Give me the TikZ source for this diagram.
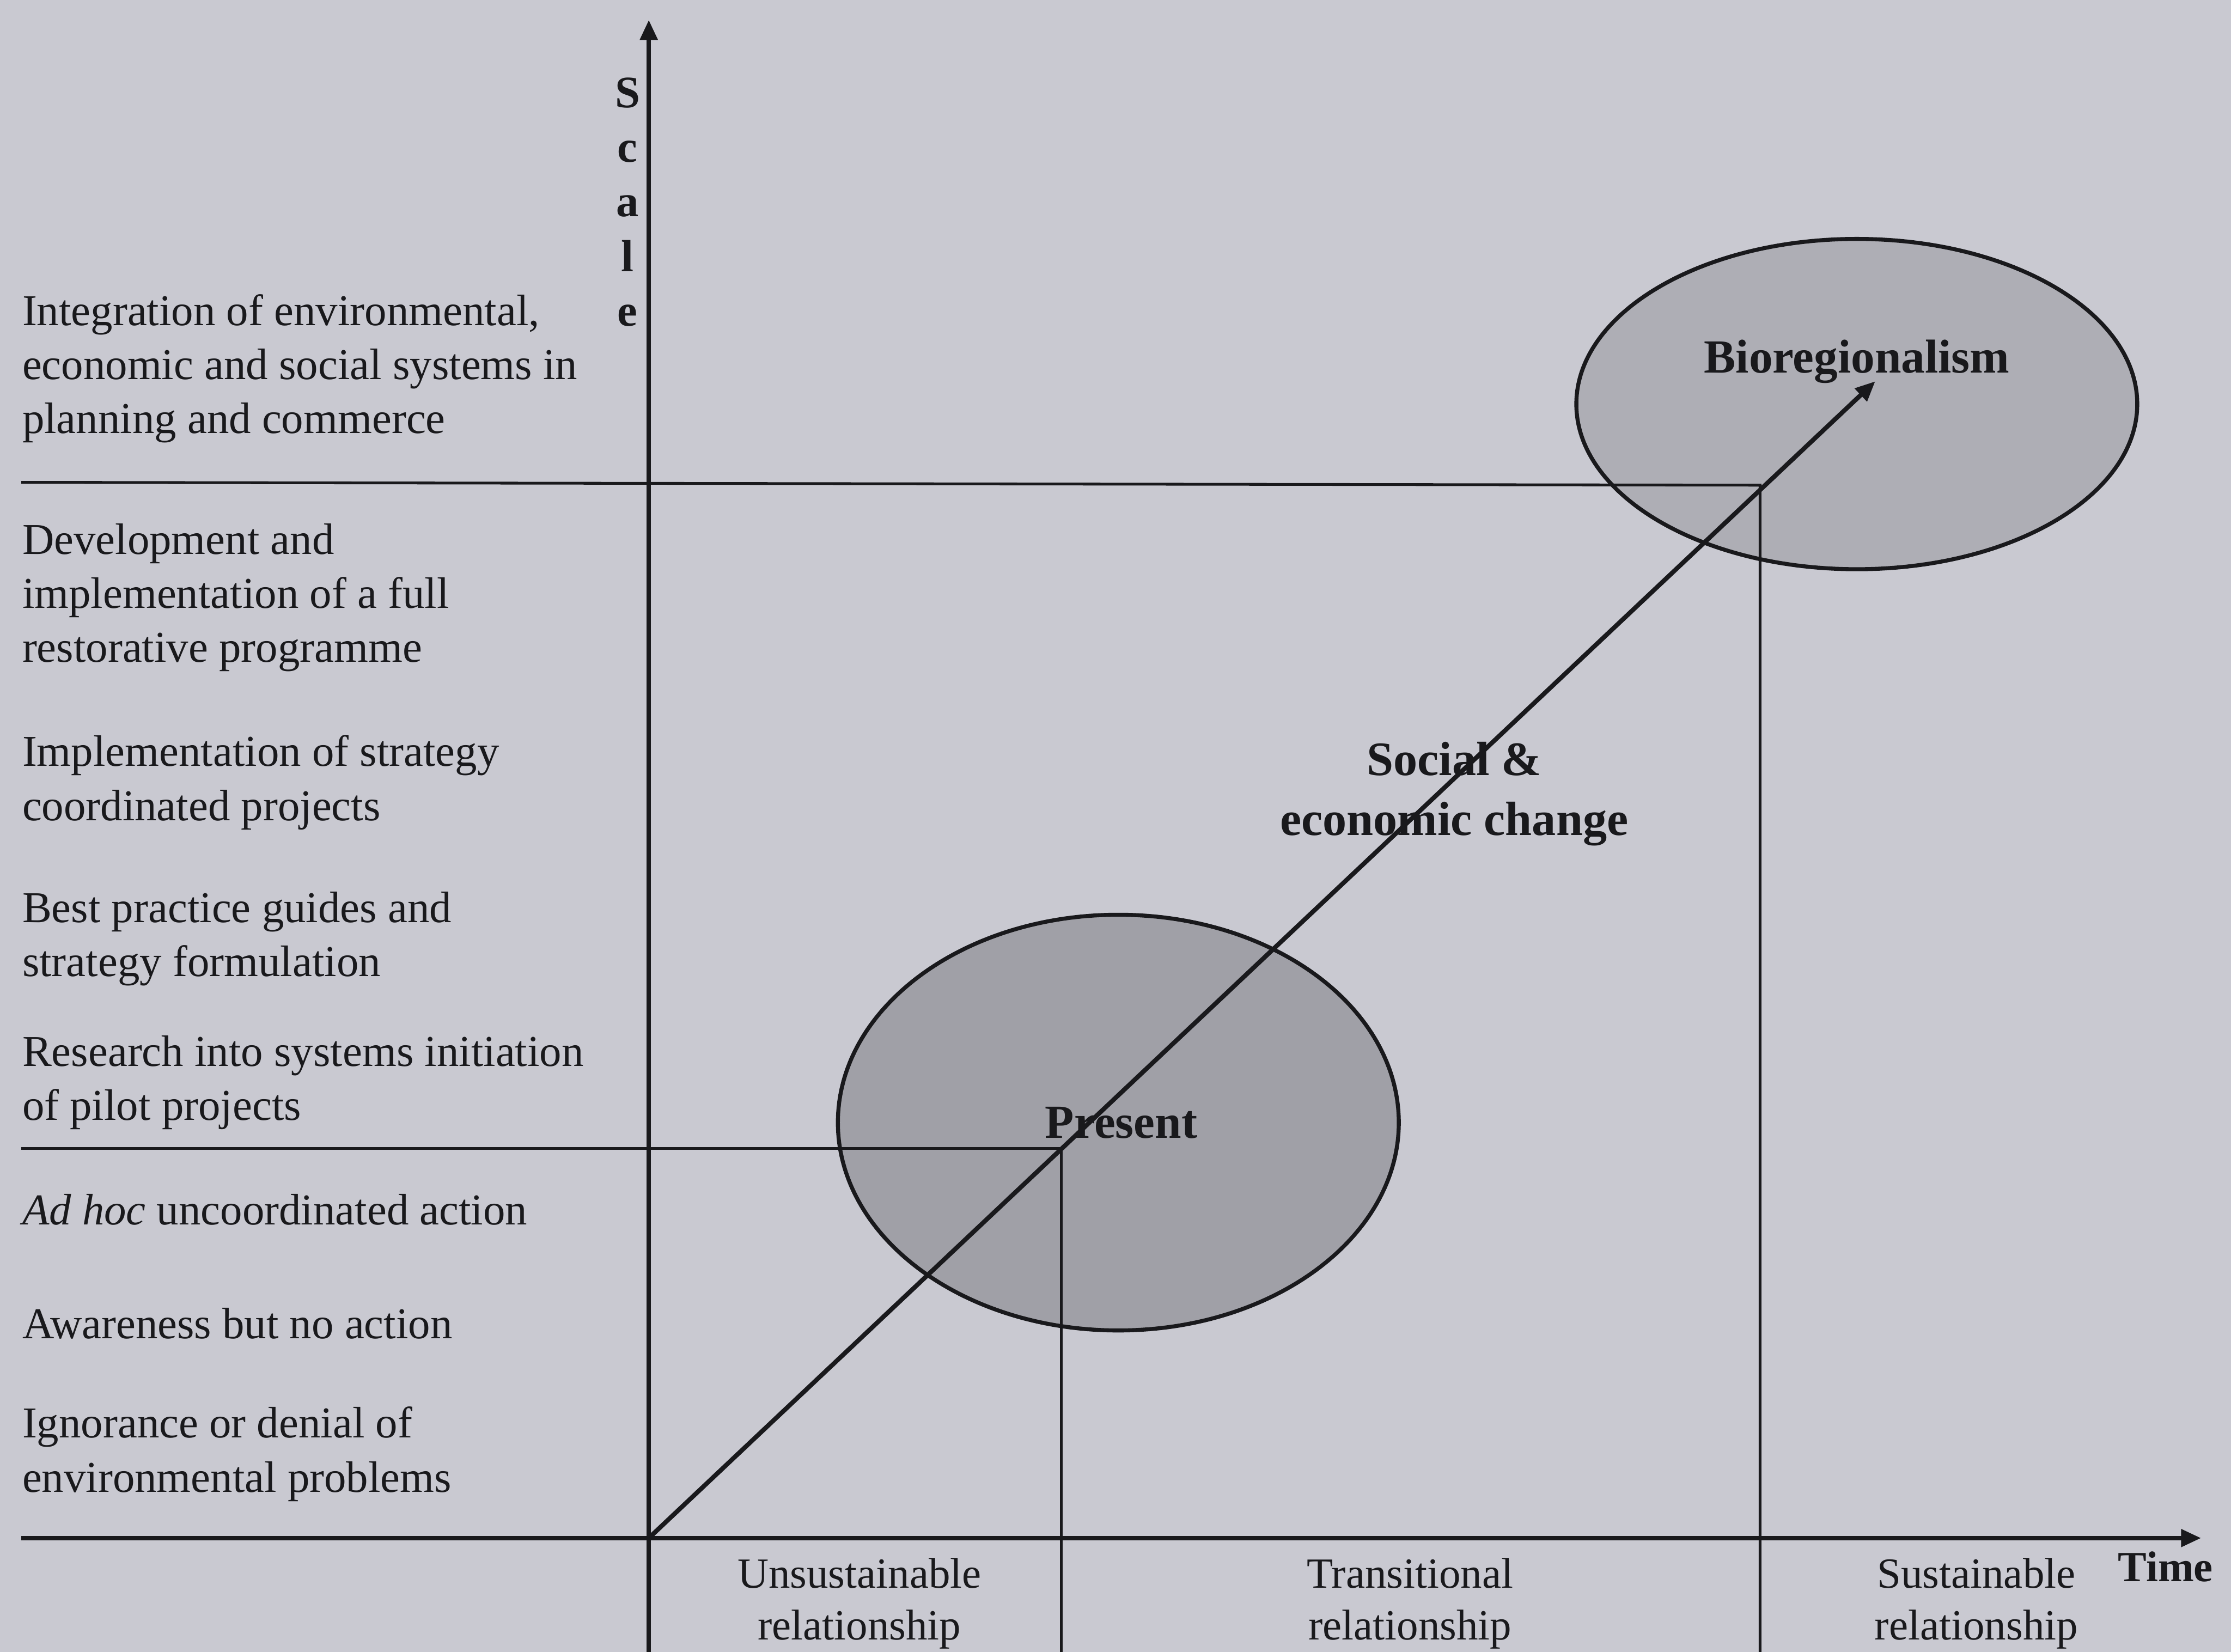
\documentclass[tikz,border=0pt]{standalone}
\usepackage{fontspec}
\setmainfont{Liberation Serif}
\usetikzlibrary{arrows.meta,shapes.geometric}
\definecolor{bg}{RGB}{201,201,209}
\definecolor{blobA}{RGB}{160,160,167}
\definecolor{blobB}{RGB}{174,174,181}
\definecolor{ink}{RGB}{25,25,28}
\begin{document}
\begin{tikzpicture}[x=0.01cm,y=-0.01cm,
  lbl/.style={anchor=west, inner sep=0pt, align=left, text=ink,
    font=\fontsize{8.8}{10.8}\selectfont},
  bot/.style={inner sep=0pt, align=center, text=ink,
    font=\fontsize{8.6}{10.4}\selectfont},
  bold/.style={inner sep=0pt, align=center, text=ink,
    font=\fontsize{9.5}{12}\selectfont\bfseries},
  axis/.style={draw=ink, line width=0.9pt},
  grid/.style={draw=ink, line width=0.55pt},
  blob/.style={ellipse, draw=ink, line width=0.8pt, inner sep=0pt, outer sep=0pt},
  tip/.style={-{Triangle[length=4pt,width=3.4pt]}}
]
\fill[bg] (0,0) rectangle (1568,1161);
\useasboundingbox (0,0) rectangle (1568,1161);

% ellipses
\node[blob, fill=blobA, minimum width=3.94cm, minimum height=2.92cm] (present) at (786,789) {};
\node[blob, fill=blobB, minimum width=3.94cm, minimum height=2.32cm] (bio) at (1305,284) {};

% key coordinates
\coordinate (o) at (456,1081);
\coordinate (ytop) at (456,14);
\coordinate (ybot) at (456,1161);
\coordinate (xleft) at (15,1081);
\coordinate (xend) at (1547,1081);
\coordinate (p) at (746,807);
\coordinate (b) at (1237,341);
\coordinate (arrowend) at (1318,268);
\coordinate (pl) at (15,807);
\coordinate (bl) at (15,339);
\coordinate (pb) at (746,1161);
\coordinate (bb) at (1237,1161);

% grid lines
\draw[grid] (bl) -- (b) -- (bb);
\draw[grid] (pl) -- (p) -- (pb);

% axes
\draw[axis, tip] (ybot) -- (ytop);
\draw[axis, tip] (xleft) -- (xend);

% diagonal
\draw[axis, tip] (o) -- (arrowend);

% ellipse labels
\node[bold] (presentlbl) at (788,789) {Present};
\node[bold] (biolbl) at (1305,254) {Bioregionalism};
\node[bold, font=\fontsize{9.6}{12}\selectfont\bfseries] (change) at (1022,558) {Social \&\\economic change};

% axis labels
\node[bold, font=\fontsize{9}{10.9}\selectfont\bfseries] (scale) at (441,142) {S\\c\\a\\l\\e};
\node[bold, font=\fontsize{8.6}{10}\selectfont\bfseries] (time) at (1522,1101) {Time};

% left labels
\node[lbl] (l1) at (15,259) {Integration of environmental,\\economic and social systems in\\planning and commerce};
\node[lbl] (l2) at (15,420) {Development and\\implementation of a full\\restorative programme};
\node[lbl] (l3) at (15,550) {Implementation of strategy\\coordinated projects};
\node[lbl] (l4) at (15,660) {Best practice guides and\\strategy formulation};
\node[lbl] (l5) at (15,761) {Research into systems initiation\\of pilot projects};
\node[lbl] (l6) at (15,850) {\textit{Ad hoc} uncoordinated action};
\node[lbl] (l7) at (15,930) {Awareness but no action};
\node[lbl] (l8) at (15,1022) {Ignorance or denial of\\environmental problems};

% bottom labels
\node[bot] (u) at (604,1127) {Unsustainable\\relationship};
\node[bot] (t) at (991,1127) {Transitional\\relationship};
\node[bot] (s) at (1389,1127) {Sustainable\\relationship};
\end{tikzpicture}
\end{document}
